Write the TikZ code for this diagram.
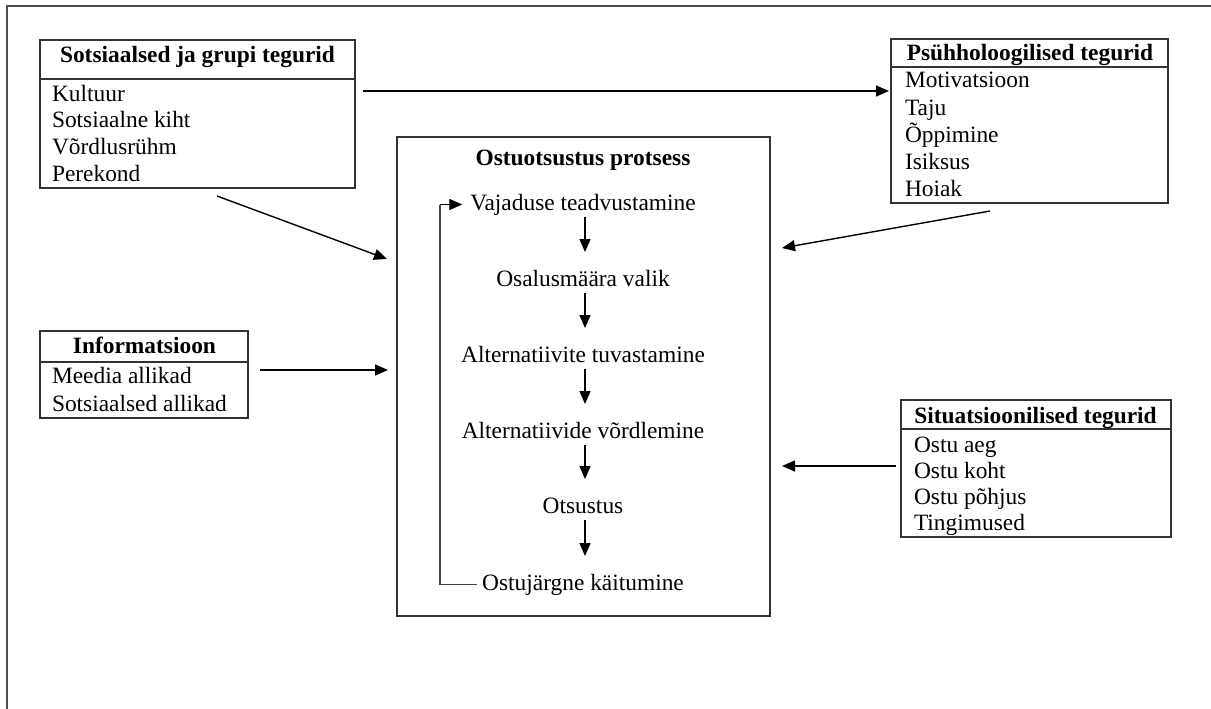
\documentclass[tikz,border=0pt]{standalone}
\usepackage{fontspec}
\setmainfont{Liberation Serif}
\usetikzlibrary{arrows.meta}
\begin{document}
\begin{tikzpicture}[x=1pt,y=-1pt,
  every node/.style={font=\fontsize{23.4}{26}\selectfont, inner sep=0pt, outer sep=0pt},
  panel/.style={draw=black!80, line width=1.4pt, rectangle},
  rule/.style={draw=black!80, line width=1.4pt},
  head/.style={font=\fontsize{23.4}{26}\selectfont\bfseries, anchor=base},
  item/.style={anchor=base west},
  stepnode/.style={anchor=base, text height=16pt, text depth=5pt},
  arr/.style={draw=black, line width=1.4pt, -{Triangle[length=13pt,width=11pt]}},
  loopline/.style={draw=black!75, line width=1.3pt}]

\useasboundingbox (0,0) rectangle (1211,709);
\fill[white] (0,0) rectangle (1211,709);

% page frame (open on the right and bottom)
\draw[line width=2pt, black!70] (6.5,709) -- (6.5,6.5) -- (1211,6.5);

% social and group factors
\node[panel, minimum width=315pt, minimum height=148pt] (b1) at (197.5,114) {};
\draw[rule] (b1.north west) ++(0,39) -- ++(315,0);
\node[head] (b1t) at (197.5,63) {Sotsiaalsed ja grupi tegurid};
\foreach \t [count=\i] in {Kultuur, Sotsiaalne kiht, Võrdlusrühm, Perekond}
  \node[item] (b1i\i) at (52,{101.5+26.5*(\i-1)}) {\t};

% psychological factors
\node[panel, minimum width=277pt, minimum height=164pt] (b2) at (1029.5,121) {};
\draw[rule] (b2.north west) ++(0,28) -- ++(277,0);
\node[head] (b2t) at (1030,61) {Psühholoogilised tegurid};
\foreach \t [count=\i] in {Motivatsioon, Taju, Õppimine, Isiksus, Hoiak}
  \node[item] (b2i\i) at (905,{88+27*(\i-1)}) {\t};

% information
\node[panel, minimum width=208pt, minimum height=87pt] (b3) at (144,374.5) {};
\draw[rule] (b3.north west) ++(0,31) -- ++(208,0);
\node[head] (b3t) at (144.5,353) {Informatsioon};
\foreach \t [count=\i] in {Meedia allikad, Sotsiaalsed allikad}
  \node[item] (b3i\i) at (52,{383+28*(\i-1)}) {\t};

% situational factors
\node[panel, minimum width=270pt, minimum height=137pt] (b4) at (1036,468.5) {};
\draw[rule] (b4.north west) ++(0,29) -- ++(270,0);
\node[head] (b4t) at (1035.5,423) {Situatsioonilised tegurid};
\foreach \t [count=\i] in {Ostu aeg, Ostu koht, Ostu põhjus, Tingimused}
  \node[item] (b4i\i) at (914,{452+26*(\i-1)}) {\t};

% purchase decision process
\node[panel, minimum width=373pt, minimum height=479pt] (m) at (583.5,376.5) {};
\node[head] (mt) at (583,165) {Ostuotsustus protsess};
\node[stepnode] (s1) at (583,210) {Vajaduse teadvustamine};
\node[stepnode] (s2) at (583,286) {Osalusmäära valik};
\node[stepnode] (s3) at (583,362) {Alternatiivite tuvastamine};
\node[stepnode] (s4) at (583,438) {Alternatiivide võrdlemine};
\node[stepnode] (s5) at (583,513) {Otsustus};
\node[stepnode] (s6) at (583,590) {Ostujärgne käitumine};

\foreach \i/\j in {1/2, 2/3, 3/4, 4/5, 5/6}
  \draw[arr, shorten <=2pt, shorten >=18pt] ([xshift=2pt]s\i.south) -- ([xshift=2pt]s\i.south |- s\j.north);

% feedback loop
\coordinate (loopx) at (440,0);
\draw[loopline] ([xshift=-5pt]s6.west) -- (s6.west -| loopx) -- (s1.west -| loopx);
\draw[arr] (s1.west -| loopx) -- ([xshift=-8pt]s1.west);

% influences on the process
\coordinate (a1) at (363,91);
\draw[arr, shorten >=2pt] (a1) -- (b2.west |- a1);

\coordinate (a2s) at (217,196);
\coordinate (a2e) at (387,259);
\draw[arr] (a2s) -- (a2e);

\coordinate (a3s) at (990,211);
\coordinate (a3e) at (782,248);
\draw[arr] (a3s) -- (a3e);

\coordinate (a4s) at (260,370);
\draw[arr, shorten >=9pt] (a4s) -- (m.west |- a4s);

\coordinate (a5s) at (896,466);
\draw[arr, shorten >=12pt] (a5s) -- (m.east |- a5s);

\end{tikzpicture}
\end{document}
